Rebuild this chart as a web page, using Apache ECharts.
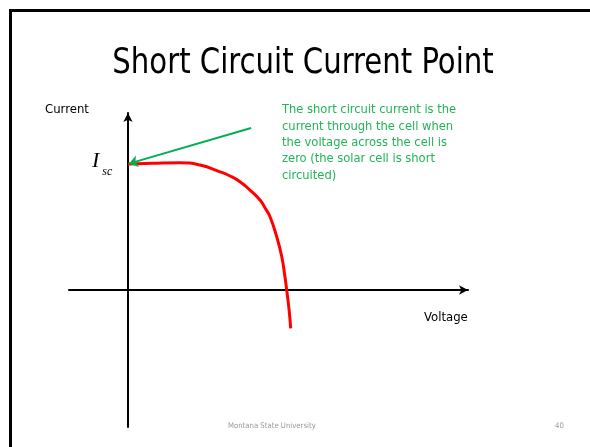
<!DOCTYPE html>
<html>
<head>
<meta charset="utf-8">
<script src="https://cdn.jsdelivr.net/npm/echarts@6/dist/echarts.min.js"></script>
<style>
  html, body { margin: 0; padding: 0; background: #fff; }
  #chart { width: 590px; height: 447px; }
</style>
</head>
<body>
<div id="chart"></div>
<script>
// I-V curve, normalised so Isc ~ 1 and Voc = 1
var voltage = [0, 0.157, 0.327, 0.453, 0.579, 0.642, 0.704, 0.767, 0.83, 0.862, 0.893, 0.935, 0.967, 0.987, 0.998, 1.013, 1.023];
var current = [0.992, 0.998, 1.002, 0.984, 0.931, 0.898, 0.853, 0.787, 0.709, 0.646, 0.577, 0.42, 0.262, 0.105, 0, -0.157, -0.302];

// pointer from the note to the Isc point
var arrowFrom = [0.774, 1.276];
var arrowTo = [0.006, 0.995];

var noteLines = [
  'The short circuit current is the',
  'current through the cell when',
  'the voltage across the cell is',
  'zero (the solar cell is short',
  'circuited)'
];

var green = '#00b050';
var noteGreen = '#22b455';
var font = '"Liberation Sans Narrow", "DejaVu Sans Condensed", sans-serif';

var points = voltage.map(function (v, i) { return [v, current[i]]; });

var chart = echarts.init(document.getElementById('chart'));

var axisLine = {
  onZero: true,
  symbol: ['none', 'arrow'],
  symbolSize: [7, 9],
  lineStyle: { color: '#000', width: 2 }
};

chart.setOption({
  animation: false,
  grid: { left: 69, right: 122, top: 113, bottom: 20 },
  xAxis: {
    type: 'value', min: -0.371, max: 2.138,
    axisLine: axisLine,
    axisTick: { show: false }, axisLabel: { show: false }, splitLine: { show: false }
  },
  yAxis: {
    type: 'value', min: -1.079, max: 1.394,
    axisLine: axisLine,
    axisTick: { show: false }, axisLabel: { show: false }, splitLine: { show: false }
  },
  series: [{
    type: 'line',
    data: points,
    smooth: 0.5,
    symbol: 'none',
    lineStyle: { color: '#ff0000', width: 3 },
    markLine: {
      silent: true,
      symbol: ['none', 'arrow'],
      symbolSize: 9,
      label: { show: false },
      lineStyle: { color: green, width: 2, type: 'solid' },
      data: [[{ coord: arrowFrom }, { coord: arrowTo }]]
    }
  }],
  graphic: [
    {
      type: 'rect', silent: true,
      shape: { x: 10.5, y: 10.5, width: 620, height: 480 },
      style: { fill: 'none', stroke: '#000', lineWidth: 3 }
    },
    {
      type: 'text', x: 303, y: 64, scaleX: 0.9,
      style: {
        text: 'Short Circuit Current Point', font: '36px ' + font, fill: '#000',
        align: 'center', verticalAlign: 'middle'
      }
    },
    {
      type: 'text', x: 45, y: 103,
      style: { text: 'Current', font: '13px ' + font, fill: '#000' }
    },
    {
      type: 'text', x: 424, y: 311,
      style: { text: 'Voltage', font: '13px ' + font, fill: '#000' }
    },
    {
      type: 'text', x: 92, y: 150,
      style: {
        text: '{i|I}{s|sc}',
        rich: {
          i: { font: 'italic 22px "Liberation Serif", serif', fill: '#000', verticalAlign: 'top' },
          s: { font: 'italic 12px "Liberation Serif", serif', fill: '#000', padding: [16, 0, 0, 3] }
        }
      }
    },
    {
      type: 'text', x: 282, y: 102,
      style: { text: noteLines.join('\n'), font: '12.8px ' + font, lineHeight: 16.3, fill: noteGreen }
    },
    {
      type: 'text', x: 228, y: 422,
      style: { text: 'Montana State University', font: '7.7px ' + font, fill: '#999' }
    },
    {
      type: 'text', x: 555, y: 422,
      style: { text: '40', font: '7.7px ' + font, fill: '#999' }
    }
  ]
});
</script>
</body>
</html>
